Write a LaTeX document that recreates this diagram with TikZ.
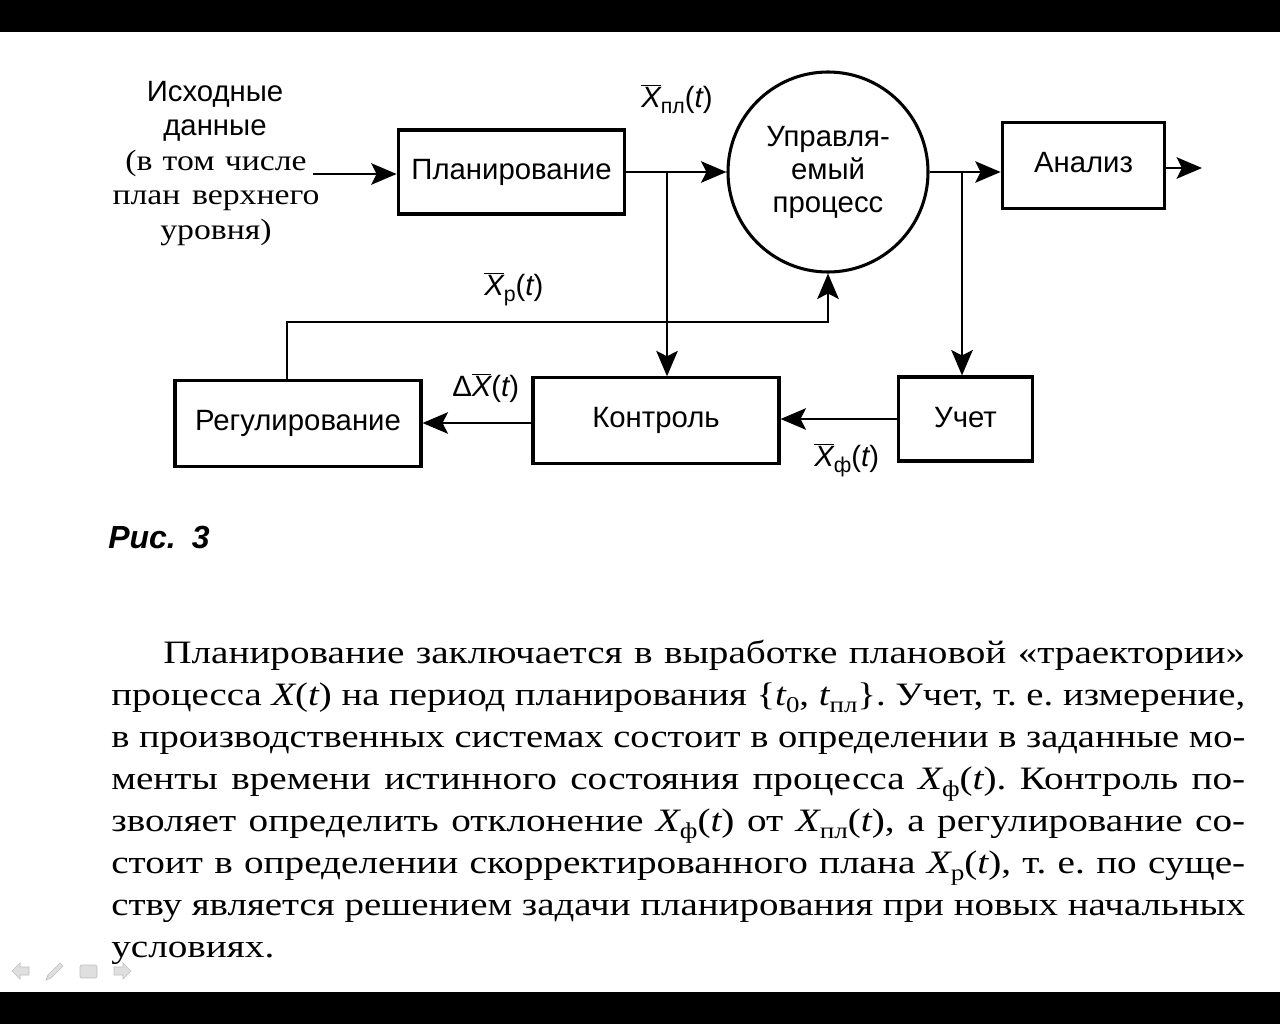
\documentclass[tikz,border=0pt]{standalone}
\usepackage{fontspec}
\usepackage{graphicx}
\usetikzlibrary{arrows.meta}
\newfontfamily\sansf{Liberation Sans}
\newfontfamily\seriff[FakeStretch=1.15]{Liberation Serif}
\newfontfamily\parf[FakeStretch=1.2]{Liberation Serif}
\newlength\fitw
\newcommand\fitline[2]{\settowidth\fitw{#2}\ifdim\fitw>#1\relax\resizebox{#1}{\height}{#2}\else\makebox[#1][s]{#2}\fi}
\newcommand\psub[1]{\raisebox{-0.5ex}{\fontsize{17}{17}\selectfont #1}}
\newcommand\dsub[1]{\raisebox{-0.4ex}{\fontsize{16}{16}\selectfont #1}}
\newcommand\mX{{\itshape X}}
\newcommand\mt{{\itshape t}}
\newcommand\olX{$\overline{\mbox{\itshape X}}$}
\tikzset{
  blockbox/.style={draw, line width=2.3pt, rectangle, inner sep=0pt, font=\sansf\fontsize{22}{26}\selectfont},
  conn/.style={line width=2.2pt},
  arr/.style={conn, -{Stealth[length=19pt,width=16pt,inset=4pt]}},
  lbl/.style={inner sep=0pt, font=\sansf\fontsize{22}{26}\selectfont},
  serlbl/.style={inner sep=0pt, font=\seriff\fontsize{22}{26}\selectfont},
  para/.style={inner sep=0pt, anchor=base west, font=\parf\fontsize{24.5}{28}\selectfont}
}
\begin{document}
\frenchspacing
\begin{tikzpicture}[x=0.75pt,y=-0.75pt]
\useasboundingbox (0,0) rectangle (1280,1024);
\fill[white] (0,0) rectangle (1280,1024);
\fill[black] (0,0) rectangle (1280,32);
\fill[black] (0,992) rectangle (1280,1024);

% left input text
\node[lbl, anchor=base] (l1) at (215,101) {Исходные};
\node[lbl, anchor=base] (l2) at (215,135) {данные};
\node[serlbl, anchor=base] (l3) at (216,170) {(в\hspace{0.35em}том\hspace{0.35em}числе};
\node[serlbl, anchor=base] (l4) at (216,204) {план\hspace{0.4em}верхнего};
\node[serlbl, anchor=base] (l5) at (216,239) {уровня)};

% blocks
\node[blockbox, minimum width=170pt, minimum height=63pt] (plan) at (511.5,172) {Планирование};
\node[draw, circle, line width=2.3pt, minimum size=150pt, inner sep=0pt, align=center,
      font=\sansf\fontsize{22}{24.75}\selectfont] (proc) at (828,172) {Управля-\\емый\\процесс};
\node[blockbox, minimum width=122pt, minimum height=64pt] (analiz) at (1083.5,165.5) {\raisebox{4pt}{Анализ}};
\node[blockbox, minimum width=184.5pt, minimum height=64pt] (reg) at (298,423.5) {Регулирование};
\node[blockbox, minimum width=184.5pt, minimum height=64pt] (kontr) at (656,420.5) {\raisebox{3pt}{Контроль}};
\node[blockbox, minimum width=101pt, minimum height=63pt] (uchet) at (965.5,419) {\raisebox{3pt}{Учет}};

% connectors
\coordinate (in) at (313,174);
\draw[arr] (in) -- (in -| plan.west);
\draw[arr] (plan.east) -- (proc.west);
\coordinate (b1) at (667,172);
\draw[arr] (b1) -- (b1 |- kontr.north);
\draw[arr] (proc.east) -- (proc.east -| analiz.west);
\coordinate (b2) at (962,172);
\draw[arr] (b2) -- (b2 |- uchet.north);
\coordinate (out) at (1202,168);
\draw[arr] (out -| analiz.east) -- (out);
\draw[arr] (uchet.west) -- (uchet.west -| kontr.east);
\draw[arr] (kontr.west |- 0,423) -- (reg.east |- 0,423);
\coordinate (c1) at (287,322);
\draw[arr] (c1 |- reg.north) -- (c1) -- (c1 -| proc.south) -- (proc.south);

% labels on connectors
\node[lbl, anchor=base west] (xpl) at (641,107) {\olX\dsub{пл}(\mt)};
\node[lbl, anchor=base west] (xr) at (484,295) {\olX\dsub{р}(\mt)};
\node[lbl, anchor=base west] (dx) at (452,396) {Δ\olX(\mt)};
\node[lbl, anchor=base west] (xf) at (814,466) {\olX\dsub{ф}(\mt)};

% caption
\node[inner sep=0pt, anchor=base west, font=\sansf\bfseries\itshape\fontsize{24}{26}\selectfont] (cap) at (108,548) {Рис.\hspace{0.5em}3};

% paragraph
\node[para] (p1) at (163,663) {\fitline{811.5pt}{Планирование заключается в выработке плановой «траектории»}};
\node[para] (p2) at (111,705) {\fitline{850.5pt}{процесса \mX(\mt) на период планирования \{\mt\psub{0}, \mt\psub{пл}\}. Учет, т. е. измерение,}};
\node[para] (p3) at (111,747) {\fitline{850.5pt}{в производственных системах состоит в определении в заданные мо-}};
\node[para] (p4) at (111,789) {\fitline{850.5pt}{менты времени истинного состояния процесса \mX\psub{ф}(\mt). Контроль по-}};
\node[para] (p5) at (111,831) {\fitline{850.5pt}{зволяет определить отклонение \mX\psub{ф}(\mt) от \mX\psub{пл}(\mt), а регулирование со-}};
\node[para] (p6) at (111,873) {\fitline{850.5pt}{стоит в определении скорректированного плана \mX\psub{р}(\mt), т. е. по суще-}};
\node[para] (p7) at (111,915) {\fitline{850.5pt}{ству является решением задачи планирования при новых начальных}};
\node[para] (p8) at (111,957) {условиях.};

% slide navigation icons
\begin{scope}[fill=gray!25, draw=gray!50, line width=0.5pt]
  \filldraw (12,971) -- (20,963) -- (20,967) -- (29,967) -- (29,975) -- (20,975) -- (20,979) -- cycle;
  \filldraw (46,980) -- (48,975) -- (60,963) -- (63,966) -- (51,978) -- cycle;
  \filldraw[rounded corners=1.5pt] (80,965) rectangle (97,978);
  \filldraw (131,971) -- (123,963) -- (123,967) -- (114,967) -- (114,975) -- (123,975) -- (123,979) -- cycle;
\end{scope}
\end{tikzpicture}
\end{document}
